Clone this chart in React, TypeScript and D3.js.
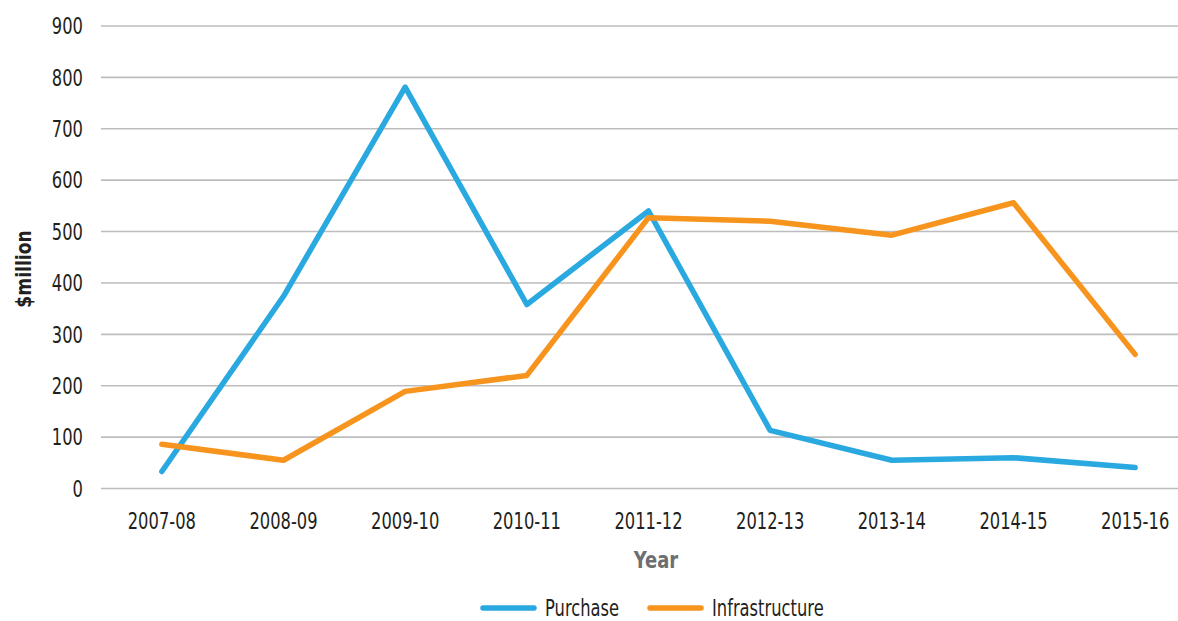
import React from 'react'
import * as d3 from 'd3'

const years = ['2007-08', '2008-09', '2009-10', '2010-11', '2011-12', '2012-13', '2013-14', '2014-15', '2015-16']
const purchase = [33, 374, 781, 358, 540, 113, 55, 60, 41]
const infrastructure = [86, 55, 189, 220, 527, 520, 493, 556, 261]
const yTicks = [0, 100, 200, 300, 400, 500, 600, 700, 800, 900]

const series = [
  { name: 'Purchase', values: purchase, color: '#29a9e0' },
  { name: 'Infrastructure', values: infrastructure, color: '#f7941d' },
]

const W = 1178
const H = 621
const font = '"DejaVu Sans", sans-serif'
// the source uses a narrow face; squeeze DejaVu horizontally to match
const sq = 0.71

const App = () => {
  const x = d3.scaleBand().domain(years).range([101, 1196])
  const y = d3.scaleLinear().domain([0, 900]).range([488.5, 26])
  const cx = (d: string) => (x(d) ?? 0) + x.bandwidth() / 2

  const line = d3.line<number>()
    .x((_, i) => cx(years[i]))
    .y(d => y(d))

  return (
    <svg width={W} height={H} style={{ position: 'absolute', left: 0, top: 0, background: '#fff' }}>
      {/* grid */}
      {yTicks.map(t => (
        <g key={`g-${t}`}>
          <line x1={101} x2={W} y1={y(t)} y2={y(t)} stroke="#bdbdbd" strokeWidth={1.6} />
          <text transform={`translate(83, ${y(t)}) scale(${sq}, 1)`} dy="0.36em" textAnchor="end"
            fontFamily={font} fontSize={23} fill="#231f20">{t}</text>
        </g>
      ))}

      {years.map(d => (
        <text key={`x-${d}`} transform={`translate(${cx(d)}, 529) scale(${sq}, 1)`} textAnchor="middle"
          fontFamily={font} fontSize={23} fill="#231f20">{d}</text>
      ))}

      {series.map(s => (
        <path key={s.name} d={line(s.values) ?? ''} fill="none" stroke={s.color} strokeWidth={5.5}
          strokeLinejoin="round" strokeLinecap="round" />
      ))}

      <text transform={`translate(31, 269) rotate(-90) scale(0.78, 1)`} textAnchor="middle" fontFamily={font}
        fontSize={22} fontWeight="bold" fill="#231f20">$million</text>
      <text transform={`translate(656, 568) scale(0.78, 1)`} textAnchor="middle" fontFamily={font}
        fontSize={23} fontWeight="bold" fill="#6d6e71">Year</text>

      {/* legend */}
      {series.map((s, i) => {
        const lx = i === 0 ? 483 : 650
        return (
          <g key={`l-${s.name}`}>
            <line x1={lx} x2={lx + 51} y1={608} y2={608} stroke={s.color} strokeWidth={5.5} strokeLinecap="round" />
            <text transform={`translate(${lx + 62}, 608) scale(${sq}, 1)`} dy="0.36em" fontFamily={font}
              fontSize={23} fill="#231f20">{s.name}</text>
          </g>
        )
      })}
    </svg>
  )
}

export default App
